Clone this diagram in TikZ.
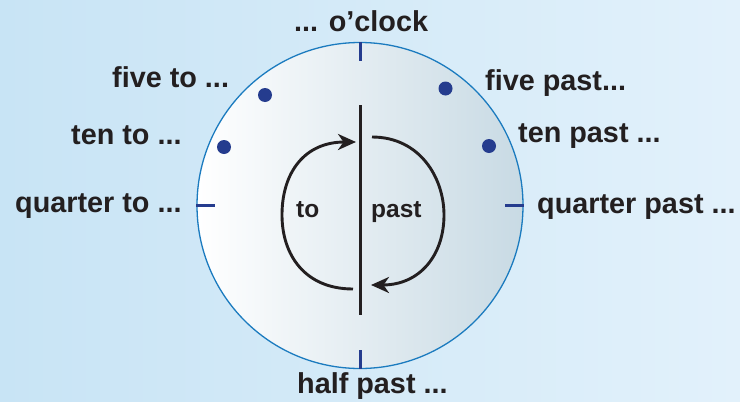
\documentclass[tikz,border=0pt]{standalone}
\usepackage{fontspec}
\setmainfont{Liberation Sans}
\usetikzlibrary{arrows.meta}
\definecolor{bgL}{HTML}{C8E4F5}
\definecolor{bgR}{HTML}{E2F1FB}
\definecolor{faceR}{HTML}{C8DAE4}
\definecolor{rim}{HTML}{1B7BBF}
\definecolor{mark}{HTML}{253C8E}
\definecolor{ink}{HTML}{231F20}
\begin{document}
\begin{tikzpicture}[x=1pt,y=-1pt,
  lbl/.style={font=\bfseries\fontsize{28.8}{30}\selectfont, text=ink, inner sep=0pt, anchor=base west},
  inlbl/.style={font=\bfseries\fontsize{24.5}{26}\selectfont, text=ink, inner sep=0pt, anchor=base west},
  tickmark/.style={draw=mark, line width=3pt},
  dotmark/.style={fill=mark},
  arr/.style={draw=ink, line width=2.9pt, -{Stealth[length=18pt,width=16pt,inset=5.5pt]}}]
\useasboundingbox (0,0) rectangle (740,402);
\fill[left color=bgL, right color=bgR] (0,0) rectangle (740,402);
\node[circle, draw=rim, line width=1.3pt, minimum size=326pt, inner sep=0pt,
      left color=white, right color=faceR] (face) at (360,205.5) {};
% ticks
\draw[tickmark] (face.north) -- ++(0,19);
\draw[tickmark] (face.south) -- ++(0,-19);
\draw[tickmark] (face.west) -- ++(19,0);
\draw[tickmark] (face.east) -- ++(-19,0);
% dots
\fill[dotmark] (265,95) circle (7pt);
\fill[dotmark] (224,147) circle (7pt);
\fill[dotmark] (445.5,88.5) circle (7pt);
\fill[dotmark] (489,146) circle (7pt);
% center line
\coordinate (ltop) at (360,105);
\coordinate (lbot) at (360,315);
\draw[draw=ink, line width=3pt] (ltop) -- (lbot);
% arrows
\coordinate (toS) at (353,289);
\coordinate (toE) at (356,142);
\coordinate (paS) at (372,137);
\coordinate (paE) at (371,285);
\draw[arr] (toS) .. controls (305,289) and (282,255) .. (282,215)
                 .. controls (282,172) and (305,142) .. (toE);
\draw[arr] (paS) .. controls (420,137) and (444,178) .. (444,215)
                 .. controls (444,255) and (420,285) .. (paE);
% labels
\node[lbl] (oclock) at (294,31) {... o’clock};
\node[lbl] (fiveto) at (112,87) {five to ...};
\node[lbl] (tento) at (71,144) {ten to ...};
\node[lbl] (quarterto) at (15,212) {quarter to ...};
\node[lbl] (fivepast) at (485,90) {five past...};
\node[lbl] (tenpast) at (518,142) {ten past ...};
\node[lbl] (quarterpast) at (537,213) {quarter past ...};
\node[lbl] (halfpast) at (297,393) {half past ...};
\node[inlbl] (to) at (296,217) {to};
\node[inlbl] (past) at (371,217) {past};
\end{tikzpicture}
\end{document}
